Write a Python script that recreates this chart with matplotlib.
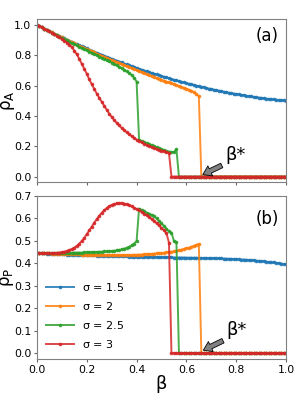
import numpy as np
import matplotlib
matplotlib.use("Agg")
import matplotlib.pyplot as plt

# beta grid (step 0.01)
beta = np.round(np.linspace(0, 1, 101), 2)

# rho_A, panel (a)
rhoA_s15 = [1.000, 0.992, 0.983, 0.975, 0.967, 0.958, 0.950, 0.942, 0.934, 0.926,
            0.919, 0.911, 0.903, 0.895, 0.888, 0.880, 0.873, 0.866, 0.858, 0.851,
            0.844, 0.837, 0.830, 0.823, 0.816, 0.809, 0.803, 0.796, 0.789, 0.783,
            0.777, 0.770, 0.764, 0.758, 0.752, 0.745, 0.739, 0.733, 0.728, 0.722,
            0.716, 0.710, 0.705, 0.699, 0.694, 0.688, 0.683, 0.678, 0.673, 0.668,
            0.663, 0.658, 0.653, 0.648, 0.643, 0.638, 0.634, 0.629, 0.625, 0.620,
            0.616, 0.612, 0.608, 0.603, 0.599, 0.595, 0.592, 0.588, 0.584, 0.580,
            0.577, 0.573, 0.569, 0.566, 0.563, 0.559, 0.556, 0.553, 0.550, 0.547,
            0.544, 0.541, 0.538, 0.536, 0.533, 0.530, 0.528, 0.525, 0.523, 0.521,
            0.519, 0.516, 0.514, 0.512, 0.510, 0.508, 0.507, 0.505, 0.503, 0.502,
            0.500]
rhoA_s2 = [1.000, 0.991, 0.983, 0.975, 0.966, 0.958, 0.950, 0.942, 0.934, 0.925,
           0.917, 0.909, 0.902, 0.894, 0.886, 0.878, 0.870, 0.863, 0.855, 0.847,
           0.840, 0.832, 0.825, 0.818, 0.810, 0.803, 0.796, 0.789, 0.782, 0.774,
           0.767, 0.760, 0.754, 0.747, 0.740, 0.733, 0.726, 0.720, 0.713, 0.707,
           0.700, 0.693, 0.687, 0.681, 0.674, 0.668, 0.662, 0.656, 0.650, 0.643,
           0.638, 0.631, 0.626, 0.620, 0.614, 0.608, 0.602, 0.597, 0.591, 0.586,
           0.580, 0.572, 0.565, 0.556, 0.544, 0.528, 0.000, 0.000, 0.000, 0.000,
           0.000, 0.000, 0.000, 0.000, 0.000, 0.000, 0.000, 0.000, 0.000, 0.000,
           0.000, 0.000, 0.000, 0.000, 0.000, 0.000, 0.000, 0.000, 0.000, 0.000,
           0.000, 0.000, 0.000, 0.000, 0.000, 0.000, 0.000, 0.000, 0.000, 0.000,
           0.000]
rhoA_s25 = [1.000, 0.991, 0.983, 0.974, 0.966, 0.957, 0.949, 0.940, 0.932, 0.923,
            0.914, 0.906, 0.897, 0.889, 0.880, 0.872, 0.864, 0.855, 0.847, 0.839,
            0.831, 0.823, 0.815, 0.807, 0.799, 0.791, 0.783, 0.775, 0.767, 0.759,
            0.751, 0.742, 0.733, 0.724, 0.714, 0.704, 0.693, 0.682, 0.669, 0.652,
            0.626, 0.242, 0.235, 0.228, 0.220, 0.213, 0.206, 0.199, 0.192, 0.186,
            0.180, 0.174, 0.169, 0.165, 0.162, 0.162, 0.180, 0.000, 0.000, 0.000,
            0.000, 0.000, 0.000, 0.000, 0.000, 0.000, 0.000, 0.000, 0.000, 0.000,
            0.000, 0.000, 0.000, 0.000, 0.000, 0.000, 0.000, 0.000, 0.000, 0.000,
            0.000, 0.000, 0.000, 0.000, 0.000, 0.000, 0.000, 0.000, 0.000, 0.000,
            0.000, 0.000, 0.000, 0.000, 0.000, 0.000, 0.000, 0.000, 0.000, 0.000,
            0.000]
rhoA_s3 = [1.000, 0.991, 0.983, 0.974, 0.965, 0.956, 0.947, 0.937, 0.927, 0.917,
           0.906, 0.894, 0.882, 0.870, 0.852, 0.830, 0.805, 0.775, 0.742, 0.710,
           0.677, 0.640, 0.608, 0.577, 0.547, 0.519, 0.492, 0.467, 0.440, 0.415,
           0.393, 0.373, 0.354, 0.337, 0.321, 0.306, 0.292, 0.279, 0.267, 0.256,
           0.244, 0.234, 0.225, 0.217, 0.209, 0.202, 0.195, 0.189, 0.183, 0.177,
           0.171, 0.166, 0.161, 0.156, 0.000, 0.000, 0.000, 0.000, 0.000, 0.000,
           0.000, 0.000, 0.000, 0.000, 0.000, 0.000, 0.000, 0.000, 0.000, 0.000,
           0.000, 0.000, 0.000, 0.000, 0.000, 0.000, 0.000, 0.000, 0.000, 0.000,
           0.000, 0.000, 0.000, 0.000, 0.000, 0.000, 0.000, 0.000, 0.000, 0.000,
           0.000, 0.000, 0.000, 0.000, 0.000, 0.000, 0.000, 0.000, 0.000, 0.000,
           0.000]

# rho_P, panel (b)
rhoP_s15 = [0.445, 0.445, 0.444, 0.444, 0.443, 0.443, 0.442, 0.442, 0.441, 0.441,
            0.440, 0.440, 0.439, 0.439, 0.438, 0.438, 0.437, 0.437, 0.437, 0.436,
            0.436, 0.435, 0.435, 0.435, 0.434, 0.434, 0.434, 0.433, 0.433, 0.433,
            0.432, 0.432, 0.432, 0.431, 0.431, 0.431, 0.431, 0.430, 0.430, 0.430,
            0.430, 0.429, 0.429, 0.429, 0.429, 0.428, 0.428, 0.428, 0.428, 0.428,
            0.427, 0.427, 0.427, 0.427, 0.427, 0.426, 0.426, 0.426, 0.426, 0.426,
            0.425, 0.425, 0.425, 0.425, 0.425, 0.424, 0.424, 0.424, 0.424, 0.423,
            0.423, 0.423, 0.422, 0.422, 0.422, 0.421, 0.421, 0.420, 0.420, 0.419,
            0.419, 0.418, 0.417, 0.417, 0.416, 0.415, 0.414, 0.413, 0.412, 0.411,
            0.410, 0.409, 0.408, 0.406, 0.405, 0.404, 0.402, 0.401, 0.399, 0.397,
            0.395]
rhoP_s2 = [0.445, 0.445, 0.445, 0.444, 0.444, 0.444, 0.443, 0.443, 0.443, 0.442,
           0.442, 0.442, 0.441, 0.441, 0.441, 0.440, 0.440, 0.440, 0.439, 0.439,
           0.439, 0.439, 0.438, 0.438, 0.438, 0.438, 0.437, 0.437, 0.437, 0.437,
           0.437, 0.437, 0.437, 0.437, 0.437, 0.437, 0.437, 0.437, 0.437, 0.438,
           0.438, 0.439, 0.439, 0.440, 0.440, 0.441, 0.442, 0.443, 0.444, 0.445,
           0.446, 0.447, 0.449, 0.450, 0.452, 0.454, 0.456, 0.458, 0.461, 0.464,
           0.467, 0.470, 0.474, 0.478, 0.482, 0.487, 0.000, 0.000, 0.000, 0.000,
           0.000, 0.000, 0.000, 0.000, 0.000, 0.000, 0.000, 0.000, 0.000, 0.000,
           0.000, 0.000, 0.000, 0.000, 0.000, 0.000, 0.000, 0.000, 0.000, 0.000,
           0.000, 0.000, 0.000, 0.000, 0.000, 0.000, 0.000, 0.000, 0.000, 0.000,
           0.000]
rhoP_s25 = [0.445, 0.445, 0.445, 0.445, 0.445, 0.445, 0.446, 0.446, 0.446, 0.446,
            0.446, 0.447, 0.447, 0.447, 0.447, 0.448, 0.448, 0.448, 0.448, 0.449,
            0.449, 0.449, 0.450, 0.450, 0.451, 0.451, 0.452, 0.453, 0.453, 0.454,
            0.455, 0.456, 0.458, 0.460, 0.462, 0.465, 0.469, 0.474, 0.480, 0.488,
            0.500, 0.644, 0.638, 0.632, 0.626, 0.621, 0.616, 0.610, 0.600, 0.589,
            0.578, 0.567, 0.555, 0.542, 0.537, 0.500, 0.495, 0.000, 0.000, 0.000,
            0.000, 0.000, 0.000, 0.000, 0.000, 0.000, 0.000, 0.000, 0.000, 0.000,
            0.000, 0.000, 0.000, 0.000, 0.000, 0.000, 0.000, 0.000, 0.000, 0.000,
            0.000, 0.000, 0.000, 0.000, 0.000, 0.000, 0.000, 0.000, 0.000, 0.000,
            0.000, 0.000, 0.000, 0.000, 0.000, 0.000, 0.000, 0.000, 0.000, 0.000,
            0.000]
rhoP_s3 = [0.445, 0.445, 0.445, 0.445, 0.445, 0.445, 0.446, 0.446, 0.447, 0.448,
           0.450, 0.452, 0.455, 0.459, 0.464, 0.470, 0.478, 0.488, 0.500, 0.514,
           0.530, 0.547, 0.564, 0.581, 0.597, 0.612, 0.625, 0.636, 0.646, 0.654,
           0.660, 0.664, 0.667, 0.668, 0.668, 0.666, 0.663, 0.659, 0.654, 0.648,
           0.642, 0.636, 0.629, 0.622, 0.614, 0.606, 0.598, 0.589, 0.579, 0.569,
           0.558, 0.547, 0.534, 0.492, 0.000, 0.000, 0.000, 0.000, 0.000, 0.000,
           0.000, 0.000, 0.000, 0.000, 0.000, 0.000, 0.000, 0.000, 0.000, 0.000,
           0.000, 0.000, 0.000, 0.000, 0.000, 0.000, 0.000, 0.000, 0.000, 0.000,
           0.000, 0.000, 0.000, 0.000, 0.000, 0.000, 0.000, 0.000, 0.000, 0.000,
           0.000, 0.000, 0.000, 0.000, 0.000, 0.000, 0.000, 0.000, 0.000, 0.000,
           0.000]

sigmas = ["1.5", "2", "2.5", "3"]
colors = ["#1f77b4", "#ff7f0e", "#2ca02c", "#d62728"]

fig = plt.figure(figsize=(3.02, 4.0), dpi=100)
ax1 = fig.add_axes([0.1225, 0.546, 0.8245, 0.406])
ax2 = fig.add_axes([0.1225, 0.102, 0.8245, 0.408])

for ax, series in [(ax1, [rhoA_s15, rhoA_s2, rhoA_s25, rhoA_s3]),
                   (ax2, [rhoP_s15, rhoP_s2, rhoP_s25, rhoP_s3])]:
    for s, c, y in zip(sigmas, colors, series):
        ax.plot(beta, y, '.-', color=c, lw=1.4, ms=3.2, alpha=0.85,
                label=r'$\mathregular{\sigma}$ = ' + s)
    ax.set_xlim(0, 1)
    ax.set_xticks([0, 0.2, 0.4, 0.6, 0.8, 1.0])
    ax.tick_params(labelsize=7.8, length=2.5, pad=1.5, color='0.4')
    for sp in ax.spines.values():
        sp.set_color('0.5')

arrow = dict(facecolor='0.5', edgecolor='black', lw=0.6,
             width=3.5, headwidth=8, headlength=6, shrink=0.02)

ax1.set_ylim(-0.033, 1.037)
ax1.set_yticks([0, 0.2, 0.4, 0.6, 0.8, 1.0])
ax1.set_yticklabels(['0.0', '0.2', '0.4', '0.6', '0.8', '1.0'])
ax1.set_xticklabels([])
ax1.set_ylabel(r'$\mathregular{\rho_A}$', fontsize=12)
ax1.yaxis.set_label_coords(-0.082, 0.5)
ax1.text(0.924, 0.897, '(a)', transform=ax1.transAxes, fontsize=12,
         ha='center', va='center')
ax1.annotate('β*', xy=(0.664, 0.012), xytext=(0.755, 0.11), fontsize=13,
             arrowprops=arrow)

ax2.set_ylim(-0.027, 0.7)
ax2.set_yticks([0, 0.1, 0.2, 0.3, 0.4, 0.5, 0.6, 0.7])
ax2.set_xticklabels(['0.0', '0.2', '0.4', '0.6', '0.8', '1.0'])
ax2.set_xlabel('β', fontsize=13, labelpad=0)
ax2.set_ylabel(r'$\mathregular{\rho_P}$', fontsize=12)
ax2.yaxis.set_label_coords(-0.086, 0.5)
ax2.text(0.924, 0.859, '(b)', transform=ax2.transAxes, fontsize=12,
         ha='center', va='center')
ax2.annotate('β*', xy=(0.666, 0.012), xytext=(0.76, 0.08), fontsize=13,
             arrowprops=arrow)
ax2.legend(loc='lower left', bbox_to_anchor=(0.02, 0.03), borderaxespad=0,
           frameon=False, fontsize=8, labelspacing=0.64, handlelength=2.5,
           handletextpad=0.7)

fig.savefig('out.png', dpi=100)
